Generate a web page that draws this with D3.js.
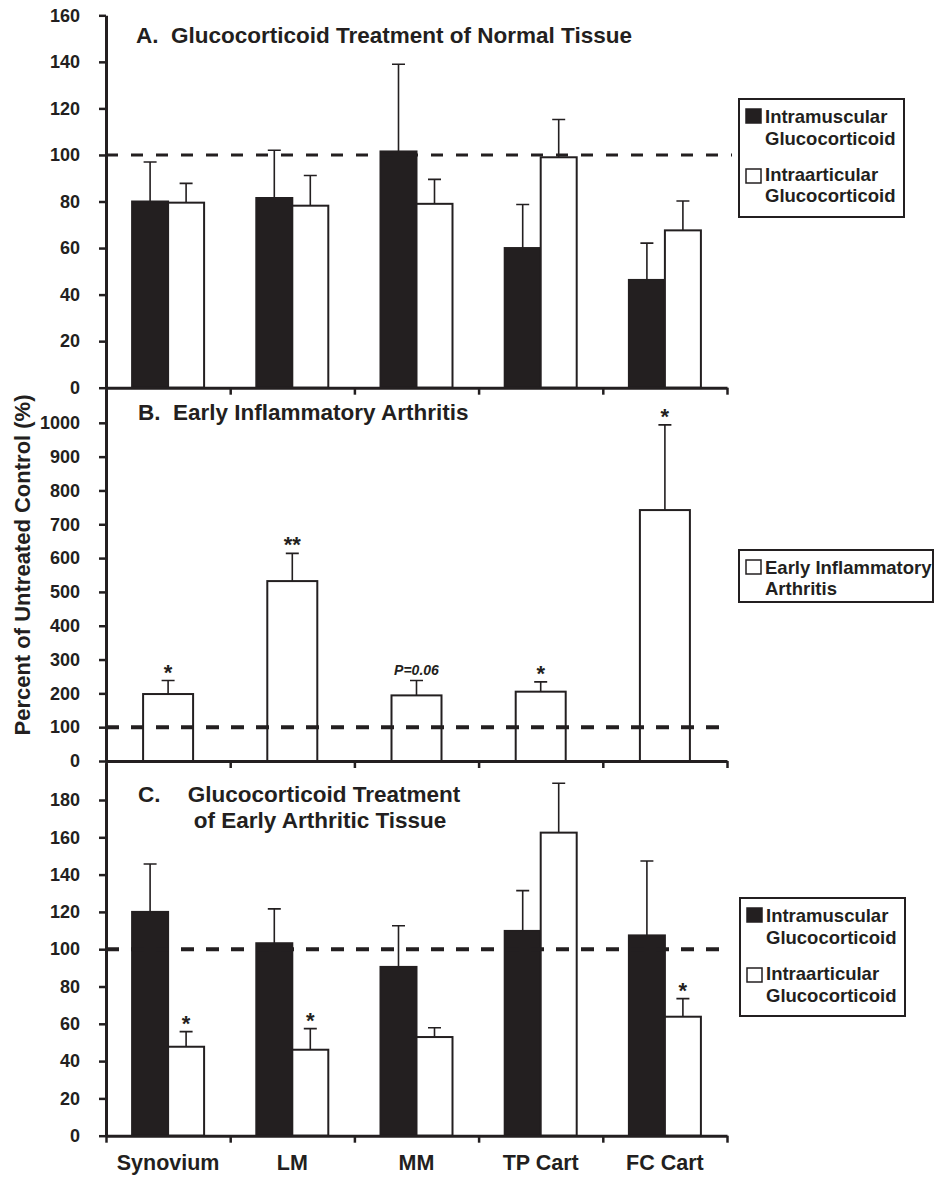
<!DOCTYPE html>
<html>
<head>
<meta charset="utf-8">
<script src="https://cdn.jsdelivr.net/npm/d3@7"></script>
<style>
  body { margin: 0; background: #fff; }
  svg { display: block; font-family: "Liberation Sans", Arial, sans-serif; font-weight: bold; }
</style>
</head>
<body>
<div id="graph"></div>
<script>
// categories (shared x axis)
var categories = ["Synovium", "LM", "MM", "TP Cart", "FC Cart"];

// panel A: glucocorticoid treatment of normal tissue
var aIntramuscular = [80, 81.5, 101.5, 60, 46.3];
var aIntramuscularErr = [17, 20.5, 37.5, 18.7, 15.8];
var aIntraarticular = [79.5, 78.2, 79, 99, 67.6];
var aIntraarticularErr = [8.3, 13, 10.5, 16.2, 12.6];
var aTicks = [0, 20, 40, 60, 80, 100, 120, 140, 160];

// panel B: early inflammatory arthritis
var bArthritis = [198, 532, 194, 205, 742];
var bArthritisErr = [40, 82, 44, 29, 252];
var bMarks = ["*", "**", "P=0.06", "*", "*"];
var bTicks = [0, 100, 200, 300, 400, 500, 600, 700, 800, 900, 1000];

// panel C: glucocorticoid treatment of early arthritic tissue
var cIntramuscular = [120, 103.2, 90.5, 109.8, 107.4];
var cIntramuscularErr = [25.7, 18.4, 22.1, 21.6, 39.9];
var cIntraarticular = [47.7, 46.1, 52.9, 162.5, 63.8];
var cIntraarticularErr = [8.1, 11.3, 5, 26.5, 9.7];
var cMarks = ["*", "*", "", "", "*"];
var cTicks = [0, 20, 40, 60, 80, 100, 120, 140, 160, 180];

var legendTwo = [["Intramuscular", "Glucocorticoid"], ["Intraarticular", "Glucocorticoid"]];
var legendOne = [["Early Inflammatory", "Arthritis"]];

var width = 935, height = 1178;
var dark = "#231f20";

var svg = d3.select("#graph").append("svg")
    .attr("width", width)
    .attr("height", height);

var x = d3.scaleBand().domain(categories).range([106, 727]);
var xEdges = d3.scaleLinear().domain([0, 5]).range([106, 727]);
var sub = d3.scaleBand().domain(["im", "ia"])
    .range([x.bandwidth() / 2 - 36, x.bandwidth() / 2 + 36]);

var yA = d3.scaleLinear().domain([0, 160]).range([387.7, 15.3]);
var yB = d3.scaleLinear().domain([0, 1100]).range([761, 389]);
var yC = d3.scaleLinear().domain([0, 200]).range([1135.7, 762.7]);

function drawAxes (y, ticks) {
    svg.append("g")
        .attr("class", "y axis")
        .attr("transform", "translate(106,0)")
        .call(d3.axisLeft(y).tickValues(ticks).tickFormat(d3.format("d"))
            .tickSize(7).tickSizeOuter(0).tickPadding(19))
        .call(styleAxis);
    svg.append("g")
        .attr("class", "x axis")
        .attr("transform", "translate(0," + y(0) + ")")
        .call(d3.axisBottom(xEdges).tickValues([0, 1, 2, 3, 4, 5]).tickFormat("").tickSize(7).tickSizeOuter(0))
        .call(styleAxis);
}

function styleAxis (g) {
    g.select(".domain").attr("stroke", dark).attr("stroke-width", 3);
    g.selectAll(".tick line").attr("stroke", dark).attr("stroke-width", 2.5);
    g.selectAll(".tick text")
        .attr("fill", dark)
        .style("font-size", "18px")
        .style("font-family", "'Liberation Sans', Arial, sans-serif")
        .style("font-weight", "bold");
}

function drawBars (y, values, errs, xpos, w, fill) {
    var g = svg.append("g");
    g.selectAll("rect")
        .data(values)
        .enter().append("rect")
        .attr("x", function(d, i) { return xpos(i); })
        .attr("y", function(d) { return y(d); })
        .attr("width", w)
        .attr("height", function(d) { return y(0) - y(d); })
        .attr("fill", fill)
        .attr("stroke", dark)
        .attr("stroke-width", 2);
    // error bars (upper only)
    g.selectAll(".err")
        .data(values)
        .enter().append("path")
        .attr("class", "err")
        .attr("fill", "none")
        .attr("stroke", dark)
        .attr("stroke-width", 1.6)
        .attr("d", function(d, i) {
            var cx = xpos(i) + w / 2, top = y(d + errs[i]);
            return "M" + cx + "," + y(d) + "V" + top + "M" + (cx - 6.5) + "," + top + "H" + (cx + 6.5);
        });
}

function drawMarks (y, values, errs, marks, xpos, w) {
    svg.append("g").selectAll("text")
        .data(marks)
        .enter().append("text")
        .attr("x", function(d, i) { return xpos(i) + w / 2; })
        .attr("y", function(d, i) {
            return d.indexOf("P") == 0 ? y(values[i] + errs[i]) - 6 : y(values[i] + errs[i]) - 1;
        })
        .attr("text-anchor", "middle")
        .attr("fill", dark)
        .style("font-size", function(d) { return d.indexOf("P") == 0 ? "14px" : "22px"; })
        .style("font-style", function(d) { return d.indexOf("P") == 0 ? "italic" : "normal"; })
        .text(function(d) { return d; });
}

function drawRef (y, x2, sw, dash) {
    svg.append("line")
        .attr("x1", 106).attr("x2", x2)
        .attr("y1", y(100)).attr("y2", y(100))
        .attr("stroke", dark)
        .attr("stroke-width", sw)
        .attr("stroke-dasharray", dash);
}

function drawLegend (x0, y0, w, h, items, fills, swatchYs, baselines) {
    var g = svg.append("g");
    g.append("rect")
        .attr("x", x0).attr("y", y0).attr("width", w).attr("height", h)
        .attr("fill", "#fff").attr("stroke", dark).attr("stroke-width", 2);
    items.forEach(function(lines, i) {
        g.append("rect")
            .attr("x", x0 + 7).attr("y", swatchYs[i])
            .attr("width", 15).attr("height", 14)
            .attr("fill", fills[i]).attr("stroke", dark).attr("stroke-width", 1.5);
        lines.forEach(function(t, j) {
            g.append("text")
                .attr("x", x0 + 26)
                .attr("y", baselines[i][j])
                .attr("fill", dark)
                .style("font-size", "18.5px")
                .text(t);
        });
    });
}

function title (tx, ty, t, anchor) {
    svg.append("text")
        .attr("x", tx).attr("y", ty)
        .attr("text-anchor", anchor || "start")
        .attr("fill", dark)
        .style("font-size", "22.5px")
        .text(t);
}

// positions for grouped / single bars
var imX = function(i) { return x(categories[i]) + sub("im"); };
var iaX = function(i) { return x(categories[i]) + sub("ia"); };
var oneX = function(i) { return x(categories[i]) + x.bandwidth() / 2 - 25; };

// panel A
drawBars(yA, aIntramuscular, aIntramuscularErr, imX, sub.bandwidth(), dark);
drawBars(yA, aIntraarticular, aIntraarticularErr, iaX, sub.bandwidth(), "#fff");
drawRef(yA, 732, 3, "12,13");
drawAxes(yA, aTicks);
title(136, 43, "A.\u00a0 Glucocorticoid Treatment of Normal Tissue");
drawLegend(739, 99, 165, 118, legendTwo, [dark, "#fff"], [109, 169], [[123, 145], [181, 202]]);

// panel B
drawBars(yB, bArthritis, bArthritisErr, oneX, 50, "#fff");
drawRef(yB, 722, 4, "13,12");
drawAxes(yB, bTicks);
drawMarks(yB, bArthritis, bArthritisErr, bMarks, oneX, 50);
title(138, 420, "B.\u00a0 Early Inflammatory Arthritis");
drawLegend(739, 550, 194, 52, legendOne, ["#fff"], [560], [[574, 595]]);

// panel C
drawBars(yC, cIntramuscular, cIntramuscularErr, imX, sub.bandwidth(), dark);
drawBars(yC, cIntraarticular, cIntraarticularErr, iaX, sub.bandwidth(), "#fff");
drawRef(yC, 728, 4, "13,12");
drawAxes(yC, cTicks);
drawMarks(yC, cIntraarticular, cIntraarticularErr, cMarks, iaX, sub.bandwidth());
title(138, 802, "C.");
title(324, 802, "Glucocorticoid Treatment", "middle");
title(320, 828, "of Early Arthritic Tissue", "middle");
drawLegend(740, 898, 165, 118, legendTwo, [dark, "#fff"], [908, 968], [[922, 944], [980, 1002]]);

// category labels
svg.append("g")
    .attr("transform", "translate(0,1136)")
    .call(d3.axisBottom(x).tickSize(0).tickPadding(19))
    .call(function(g) {
        g.select(".domain").remove();
        g.selectAll("text")
            .attr("fill", dark)
            .style("font-size", "21.5px")
            .style("font-family", "'Liberation Sans', Arial, sans-serif")
            .style("font-weight", "bold");
    });

// y axis label
svg.append("text")
    .attr("transform", "translate(30,565) rotate(-90)")
    .attr("text-anchor", "middle")
    .attr("fill", dark)
    .style("font-size", "22px")
    .text("Percent of Untreated Control (%)");
</script>
</body>
</html>
